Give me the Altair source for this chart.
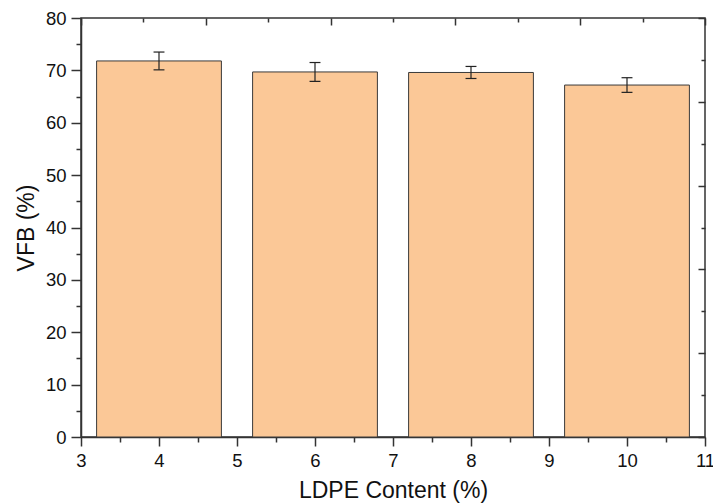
import altair as alt
import pandas as pd

# LDPE content (%) and measured voids filled with bitumen (%) with std. deviation
contents = [4, 6, 8, 10]
vfb = [71.8, 69.7, 69.6, 67.2]
vfb_sd = [1.7, 1.8, 1.15, 1.4]

# axis tick positions
bottom_ticks = [3, 3.5, 4, 4.5, 5, 5.5, 6, 6.5, 7, 7.5, 8, 8.5, 9, 9.5, 10, 10.5, 11]
left_ticks = [0, 5, 10, 15, 20, 25, 30, 35, 40, 45, 50, 55, 60, 65, 70, 75, 80]
top_major = [3, 4.6, 6.2, 7.8, 9.4, 11]
top_minor = [3.8, 5.4, 7.0, 8.6, 10.2]
right_major = [0, 16, 32, 48, 64, 80]
right_minor = [8, 24, 40, 56, 72]

FILL = "#FBC897"
INK = "#333333"
FONT = "Liberation Sans"

df = pd.DataFrame({"content": contents, "vfb": vfb, "sd": vfb_sd})

x_scale = alt.Scale(domain=[3, 11], nice=False, zero=False)
y_scale = alt.Scale(domain=[0, 80], nice=False, zero=False)

common = dict(grid=False, domainColor=INK, tickColor=INK, domainWidth=1.5, tickWidth=1.5,
              labelFont=FONT, titleFont=FONT, labelColor="#111111", titleColor="#111111",
              labelFontSize=18.5, titleFontSize=23, titleFontWeight="normal")

bottom_axis = alt.Axis(
    orient="bottom", values=bottom_ticks, title="LDPE Content (%)",
    labelExpr="datum.value % 1 === 0 ? '' + datum.value : ''",
    tickSize={"condition": {"test": "datum.value % 1 === 0", "value": 9}, "value": 5},
    labelFlush=False, labelOverlap=False, labelPadding=5, titlePadding=10, **common)

left_axis = alt.Axis(
    orient="left", values=left_ticks, title="VFB (%)",
    labelExpr="datum.value % 10 === 0 ? '' + datum.value : ''",
    tickSize={"condition": {"test": "datum.value % 10 === 0", "value": 10}, "value": 5},
    labelFlush=False, labelOverlap=False, labelPadding=5, titlePadding=7, **common)

def inner_axis(orient, values, size):
    return alt.Axis(orient=orient, values=values, tickSize=size, offset=-size, domain=False,
                    labels=False, title=None, grid=False, tickColor=INK, tickWidth=1.5)

base = alt.Chart(df).transform_calculate(
    left="datum.content - 0.8",
    right="datum.content + 0.8",
    lo="datum.vfb - datum.sd",
    hi="datum.vfb + datum.sd",
    capl="datum.content - 0.07",
    capr="datum.content + 0.07",
)

bars = base.mark_bar(color=FILL, stroke="#3a3a3a", strokeWidth=1).encode(
    x=alt.X("left:Q", scale=x_scale, axis=bottom_axis),
    x2="right:Q",
    y=alt.Y("vfb:Q", scale=y_scale, axis=left_axis),
    y2=alt.datum(0),
)

whisker = base.mark_rule(color="#222222", strokeWidth=1.2).encode(
    x=alt.X("content:Q", scale=x_scale, axis=None),
    y=alt.Y("lo:Q", scale=y_scale, axis=None),
    y2="hi:Q",
)

cap_hi = base.mark_rule(color="#222222", strokeWidth=1.2).encode(
    x=alt.X("capl:Q", scale=x_scale, axis=None),
    x2="capr:Q",
    y=alt.Y("hi:Q", scale=y_scale, axis=None),
)

cap_lo = base.mark_rule(color="#222222", strokeWidth=1.2).encode(
    x=alt.X("capl:Q", scale=x_scale, axis=None),
    x2="capr:Q",
    y=alt.Y("lo:Q", scale=y_scale, axis=None),
)

# inward ticks on the top and right edges of the frame
frame_major = base.mark_point(opacity=0).encode(
    x=alt.X("content:Q", scale=x_scale, axis=inner_axis("top", top_major, 7)),
    y=alt.Y("vfb:Q", scale=y_scale, axis=inner_axis("right", right_major, 7)),
)
frame_minor = base.mark_point(opacity=0).encode(
    x=alt.X("content:Q", scale=x_scale, axis=inner_axis("top", top_minor, 4)),
    y=alt.Y("vfb:Q", scale=y_scale, axis=inner_axis("right", right_minor, 4)),
)

chart = (
    alt.layer(bars, whisker, cap_hi, cap_lo, frame_major, frame_minor)
    .resolve_axis(x="independent", y="independent")
    .properties(
        width=624, height=419,
        autosize=alt.AutoSizeParams(type="none"),
        padding={"left": 81, "top": 18, "right": 8, "bottom": 67},
        background="white",
    )
    .configure_view(stroke=INK, strokeWidth=1.5)
)

chart.save("out.html", embed_options={"renderer": "svg", "actions": False})
